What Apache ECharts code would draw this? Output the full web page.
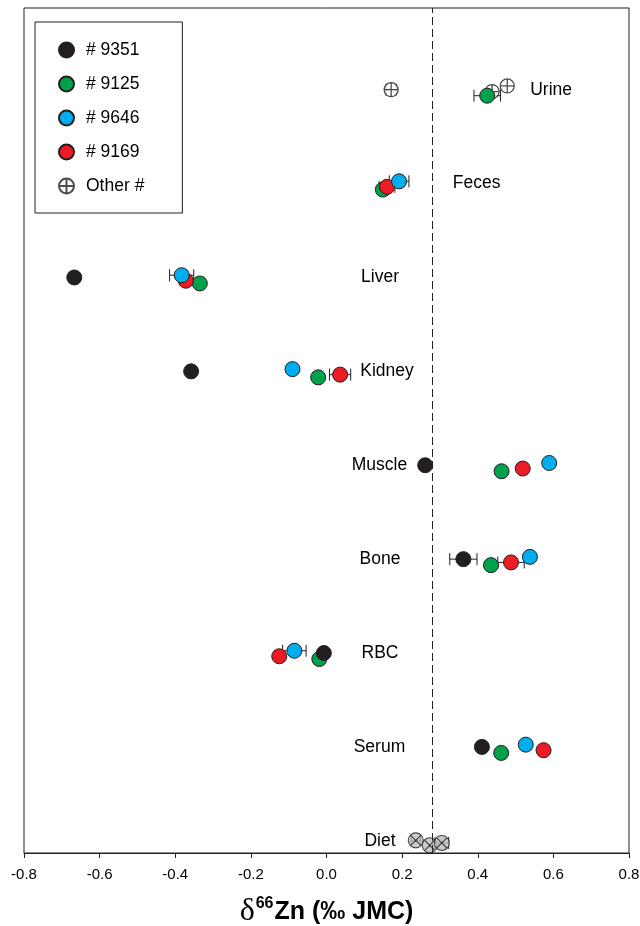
<!DOCTYPE html>
<html>
<head>
<meta charset="utf-8">
<script src="https://cdn.jsdelivr.net/npm/echarts@6/dist/echarts.min.js"></script>
<style>
  html, body { margin: 0; padding: 0; background: #ffffff; }
  #chart { width: 640px; height: 926px; }
</style>
</head>
<body>
<div id="chart"></div>
<script>
// Sample rows, listed from the bottom of the plot to the top
const categories = ['Diet', 'Serum', 'RBC', 'Bone', 'Muscle', 'Kidney', 'Liver', 'Feces', 'Urine'];

// δ66Zn (‰ JMC) per tissue for each individual (null = not measured)
const s9351 = [null, 0.411, -0.007, 0.362, 0.261, -0.358, -0.667, null, null];
const s9125 = [null, 0.462, -0.019, 0.435, 0.463, -0.022, -0.335, 0.149, 0.425];
const s9646 = [null, 0.527, -0.085, 0.538, 0.589, -0.090, -0.383, 0.192, null];
const s9169 = [null, 0.574, -0.125, 0.488, 0.519, 0.036, -0.372, 0.160, null];

// 2SD uncertainties (0 where the bar is smaller than the symbol)
const e9351 = [null, 0, 0, 0.036, 0, 0, 0, null, null];
const e9125 = [null, 0, 0, 0, 0, 0, 0, 0, 0.035];
const e9646 = [null, 0, 0.031, 0, 0, 0, 0.032, 0.026, null];
const e9169 = [null, 0, 0, 0.035, 0, 0.028, 0, 0.021, null];

// Urine of other individuals
const otherUrine = [0.171, 0.438, 0.478];
const otherUrineErr = [0.013, 0, 0];

// Diet batches
const dietValues = [0.236, 0.273, 0.305];
const dietErr = [0.012, 0, 0.018];

// Mean diet reference line
const dietMean = 0.28;

// Axis ticks
const xTicks = [-0.8, -0.6, -0.4, -0.2, 0.0, 0.2, 0.4, 0.6, 0.8];

// ---- layout: small vertical shifts so overlapping symbols stay visible ----
const shift = { s9351: 0, s9125: -0.064, s9646: 0.024, s9169: -0.035 };
const otherShift = [0, -0.02, 0.04];
const dietShift = [0.005, -0.048, -0.023];
// horizontal anchor (in axis units) of each row's name
const labelAnchorX = [0.1415, 0.140, 0.1415, 0.1415, 0.140, 0.160, 0.1415, 0.397, 0.594];

const INK = '#231f20';
const FONT = '"Liberation Sans", Arial, Helvetica, sans-serif';
const urineRow = categories.indexOf('Urine');
const dietRow = categories.indexOf('Diet');

function points(values, dy) {
  const out = [];
  values.forEach((v, i) => { if (v !== null) out.push([v, i + dy]); });
  return out;
}
function bars(values, errs, dy) {
  const out = [];
  values.forEach((v, i) => {
    if (v !== null && errs[i]) out.push([v, i + dy, errs[i]]);
  });
  return out;
}

const errorData = [].concat(
  bars(s9351, e9351, shift.s9351),
  bars(s9125, e9125, shift.s9125),
  bars(s9646, e9646, shift.s9646),
  bars(s9169, e9169, shift.s9169),
  otherUrine.map((v, k) => [v, urineRow + otherShift[k], otherUrineErr[k]]).filter(d => d[2]),
  dietValues.map((v, k) => [v, dietRow + dietShift[k], dietErr[k]]).filter(d => d[2])
);

function renderErrorBar(params, api) {
  const x = api.value(0), y = api.value(1), e = api.value(2);
  const a = api.coord([x - e, y]);
  const b = api.coord([x + e, y]);
  const h = 6;
  const style = { stroke: INK, lineWidth: 1, fill: null };
  return {
    type: 'group',
    children: [
      { type: 'line', shape: { x1: a[0], y1: a[1], x2: b[0], y2: b[1] }, style },
      { type: 'line', shape: { x1: a[0], y1: a[1] - h, x2: a[0], y2: a[1] + h }, style },
      { type: 'line', shape: { x1: b[0], y1: b[1] - h, x2: b[0], y2: b[1] + h }, style }
    ]
  };
}

function renderRowName(params, api) {
  const p = api.coord([api.value(0), api.value(1)]);
  return {
    type: 'text', x: p[0], y: p[1],
    style: {
      text: categories[params.dataIndex], fill: '#000',
      font: '17.5px ' + FONT, align: 'center', verticalAlign: 'middle'
    }
  };
}

// circle with a "+" inside, and circle with an "x" inside
const plusCircle = 'path://M0,-10A10,10,0,1,1,0,10A10,10,0,1,1,0,-10ZM-10,0L10,0M0,-10L0,10';
const crossCircle = 'path://M0,-10A10,10,0,1,1,0,10A10,10,0,1,1,0,-10ZM-7.07,-7.07L7.07,7.07M-7.07,7.07L7.07,-7.07';

function dotSeries(name, values, dy, color, z) {
  return {
    name, type: 'scatter', z,
    symbol: 'circle', symbolSize: 15,
    itemStyle: { color, borderColor: INK, borderWidth: 1, opacity: 1 },
    data: points(values, dy),
    emphasis: { disabled: true }
  };
}

const option = {
  animation: false,
  backgroundColor: '#ffffff',
  grid: {
    left: 24, right: 11, top: 8, bottom: 73,
    outerBoundsMode: 'none', containLabel: false,
    show: true, borderColor: INK, borderWidth: 1, backgroundColor: 'transparent'
  },
  xAxis: {
    type: 'value', min: -0.8, max: 0.8, interval: 0.2,
    axisLine: { show: true, onZero: false, lineStyle: { color: INK, width: 1 } },
    axisTick: { show: true, inside: false, length: 5, lineStyle: { color: INK } },
    splitLine: { show: false },
    axisLabel: {
      color: '#000', fontFamily: FONT, fontSize: 15, margin: 14,
      formatter: v => {
        const t = xTicks.find(k => Math.abs(k - v) < 1e-9);
        return (t === undefined ? v : t).toFixed(1);
      }
    },
    name: '{d|δ}{s|66}{b|Zn (‰ JMC)}',
    nameLocation: 'middle', nameGap: 43,
    nameTextStyle: {
      rich: {
        d: { fontFamily: '"Liberation Serif", "Times New Roman", serif', fontSize: 32, color: '#000', lineHeight: 32 },
        s: { fontFamily: FONT, fontSize: 16, fontWeight: 'bold', color: '#000', verticalAlign: 'top', lineHeight: 32, padding: [0, 1, 12, 1] },
        b: { fontFamily: FONT, fontSize: 25, fontWeight: 'bold', color: '#000', lineHeight: 32 }
      }
    }
  },
  yAxis: {
    type: 'value', min: -0.13, max: 8.87,
    axisLine: { show: false, onZero: false }, axisTick: { show: false }, axisLabel: { show: false }, splitLine: { show: false }
  },
  legend: {
    orient: 'vertical', left: 35, top: 22,
    padding: [19, 38, 18, 23],
    itemWidth: 15, itemHeight: 15, itemGap: 16,
    borderColor: INK, borderWidth: 1, backgroundColor: '#ffffff',
    textStyle: { color: '#000', fontFamily: FONT, fontSize: 17.5, padding: [0, 0, 0, 7] },
    data: [
      { name: '# 9351', icon: 'circle' },
      { name: '# 9125', icon: 'circle' },
      { name: '# 9646', icon: 'circle' },
      { name: '# 9169', icon: 'circle' },
      { name: 'Other #', icon: plusCircle }
    ],
    selectedMode: false
  },
  series: [
    {
      name: 'Other #', type: 'scatter', z: 3,
      symbol: plusCircle, symbolSize: 14,
      itemStyle: { color: '#ffffff', borderColor: INK, borderWidth: 1.3 },
      data: otherUrine.map((v, k) => [v, urineRow + otherShift[k]]),
      markLine: {
        silent: true, symbol: ['none', 'none'], label: { show: false },
        lineStyle: { color: INK, width: 1, type: [8, 4] },
        data: [{ xAxis: dietMean }]
      },
      emphasis: { disabled: true }
    },
    {
      name: 'Diet', type: 'scatter', z: 3,
      symbol: crossCircle, symbolSize: 15,
      itemStyle: { color: '#bcbec0', borderColor: INK, borderWidth: 1.1 },
      data: dietValues.map((v, k) => [v, dietRow + dietShift[k]]),
      emphasis: { disabled: true }
    },
    {
      name: 'errors', type: 'custom', z: 2, silent: true,
      renderItem: renderErrorBar,
      encode: { x: 0, y: 1 },
      data: errorData
    },
    dotSeries('# 9125', s9125, shift.s9125, '#00a14b', 4),
    dotSeries('# 9169', s9169, shift.s9169, '#ed1c24', 5),
    dotSeries('# 9646', s9646, shift.s9646, '#00aeef', 6),
    dotSeries('# 9351', s9351, shift.s9351, INK, 7),
    {
      name: 'rowNames', type: 'custom', z: 8, silent: true,
      renderItem: renderRowName,
      encode: { x: 0, y: 1 },
      data: categories.map((c, i) => [labelAnchorX[i], i])
    }
  ]
};

const chart = echarts.init(document.getElementById('chart'), null, { renderer: 'canvas' });
chart.setOption(option);
</script>
</body>
</html>
